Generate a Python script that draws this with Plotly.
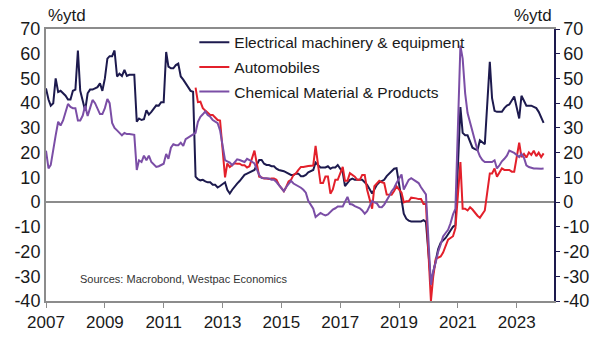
import plotly.graph_objects as go

# Monthly year-to-date growth, %; January is reported jointly with February from 2013
elec_ytd = [
    46, 41.5, 39, 40, 50, 44.5, 45, 44, 43, 41.5, 41.5, 45,          # 2007
    45.5, 61.3, 45, 41, 37, 44, 45.5, 45.5, 46, 46.5, 48, 45,        # 2008
    50, 58, 59, 59, 61.3, 50.8, 51.9, 51, 53.5, 51, 51.5, 51.5,      # 2009
    51.5, 32.5, 33.8, 33.2, 33.5, 37.1, 35.4, 36.5, 37.8, 39.1, 39, 40.4,  # 2010
    40.4, 60.7, 54.8, 54.1, 54.1, 55.4, 56, 50.8, 49.5, 48.2, 46.5, 45,    # 2011
    44.6, 10.3, 9.3, 8.8, 9, 8.4, 8, 8, 7, 7, 5.9, 6.5,              # 2012
    8, 5, 3.5, 5, 6.5, 7.5, 8.5, 10, 11, 11.5, 12,                   # 2013
    13, 15, 17, 17, 15.5, 15, 15, 14.5, 14.5, 13.5, 13,              # 2014
    12.5, 12, 11.5, 11, 11, 11.5, 11.5, 10.5, 10.5, 11, 12,          # 2015
    13, 16, 15, 14, 14, 14, 14.5, 13.5, 14, 14, 15,                  # 2016
    12, 6.5, 8, 9, 9.5, 9, 9, 9, 9, 8, 7,                            # 2017
    3.5, 5, 7, 8, 8.5, 9, 10.5, 11.5, 12.5, 13.5, 13.7,              # 2018
    0.5, -4.7, -6.7, -7.5, -7.8, -7.8, -7.8, -7.5, -7.8, -7.3, -8,   # 2019
    -32.8, -28, -24, -19, -16.5, -15.5, -14.5, -13, -11.5, -10, -9.3,  # 2020
    38.4, 28, 27, 27, 24, 22, 21.4, 21, 25, 24, 23.4,                # 2021
    56.7, 42, 36.9, 36.5, 36.5, 36.5, 38, 39, 39.5, 41, 42.7,        # 2022
    33.8, 43, 41, 39, 39, 39, 38.5, 38, 36.5, 34.5, 32,              # 2023
]

# Automobiles series begins in February 2012
auto_ytd = [
    46.3, 40.4, 40.6, 38, 37, 36, 35.2, 35.2, 34, 33.2, 33,          # 2012
    10, 15.6, 14.2, 15, 15.7, 15.5, 15.5, 14.9, 14.9, 14, 14.5,      # 2013
    20.8, 14.9, 10.3, 10, 9.5, 9.5, 9.3, 9.5, 9.5, 9, 7,             # 2014
    4.4, 6, 8.4, 9, 11, 11.6, 13, 14.2, 14.2, 14.5, 14.6,            # 2015
    14.8, 22.7, 14.9, 7.7, 7.7, 10.3, 10.3, 3.4, 5.1, 9, 9,          # 2016
    14.2, 8.6, 8.6, 11.7, 11, 10.3, 9, 9, 11, 11, 5,                 # 2017
    -2.7, 6.4, 7.7, 8.6, 8, 7.7, 3.1, 3, 3, 4.5, 6.4,                # 2018
    3.8, -0.1, 0.3, 0.3, 1.8, 1.8, 1.5, 1.2, 1.2, -0.8, -0.8,        # 2019
    -40, -30, -23, -22.5, -22, -20.4, -17.8, -15.2, -14.5, -13.8, -10.6,  # 2020
    16.2, -2.7, -2.7, -3.4, -2.1, -3, -4.4, -5.5, -6.3, -4.7, -3.4,  # 2021
    11.6, 11.6, 13.6, 10.3, 12, 13.6, 13, 13, 13, 12.3, 12.3,        # 2022
    24, 18.2, 19.5, 18, 20.1, 19.1, 20.8, 18.6, 20, 18.2, 19.7,      # 2023
]

chem_ytd = [
    20.8, 13.6, 15, 22, 27, 32.5, 31, 33, 36, 39.7, 38.5, 38,        # 2007
    38, 33, 33, 35, 39, 34.8, 38, 41.3, 40, 38, 35.6, 35.6,          # 2008
    38, 41.7, 40, 32, 30, 29, 28, 27, 28, 27.5, 27.5, 27.3,          # 2009
    27.2, 13, 16.9, 16.2, 18.8, 16.9, 18.8, 16.2, 15, 14.2, 14.5, 14.9,  # 2010
    15.5, 19.5, 17.5, 22, 23.4, 23, 23, 24, 22.7, 25.4, 26, 26.7,    # 2011
    27.2, 28, 32.5, 34.5, 35.5, 36.7, 35.2, 34.5, 33.2, 32.5, 31.9, 29,  # 2012
    17, 16.5, 16, 14.9, 16.2, 17.3, 17, 16.6, 16.2, 17.5, 17,        # 2013
    15.6, 13.6, 11, 9.7, 9.7, 9.7, 9.5, 9, 9, 8.1, 7,                # 2014
    4.4, 6, 7.5, 8.6, 7.5, 7, 6.5, 5.8, 5, 3.8, 0.5,                 # 2015
    -2.7, -6, -5, -4.4, -5, -5.4, -5, -4, -3, -2.5, -1.8,            # 2016
    -1.8, 0, 2.1, -0.8, -1, -1.6, -2, -2.5, -3.4, -4.7, -3.7,        # 2017
    0.5, -0.1, -0.5, -2, -2.1, -1, 0.5, 2.5, 4.4, 5.7, 7.7,          # 2018
    11.2, 5.1, 7, 9, 9.7, 9, 8.5, 7.7, 6, 4.4, 3.1,                  # 2019
    -33.5, -28, -24.3, -20, -17.1, -13.9, -12.5, -11.2, -8.6, -5, -2.7,  # 2020
    63.3, 58, 44, 36, 32, 28, 24, 21, 18.5, 17, 16.2,                # 2021
    16.2, 16.2, 16.9, 13.6, 14.9, 16.5, 17.5, 18.8, 20.8, 20.5, 19.9,  # 2022
    18.2, 19.5, 18, 14.9, 14.2, 13.8, 13.6, 13.6, 13.4, 13.5, 13.6,  # 2023
]

series_names = ["Electrical machinery & equipment", "Automobiles",
                "Chemical Material & Products"]
series_colors = ["#1d1a4e", "#e3202b", "#7b4ea6"]

year_ticks = [2007, 2009, 2011, 2013, 2015, 2017, 2019, 2021, 2023]
value_ticks = [-40, -30, -20, -10, 0, 10, 20, 30, 40, 50, 60, 70]
value_labels = [str(v) for v in value_ticks]  # plain hyphen for negatives

# Month stamps: full years through 2012, February onward afterwards
months = []
for yr in range(2007, 2024):
    first = 1 if yr <= 2012 else 2
    for mo in range(first, 13):
        months.append(f"{yr}-{mo:02d}-01")
auto_months = months[months.index("2012-02-01"):]

FONT = "Liberation Sans, Arial, sans-serif"
TXT = "#1a1a1a"

fig = go.Figure()
for name, x, y, c in zip(series_names,
                         [months, auto_months, months],
                         [elec_ytd, auto_ytd, chem_ytd],
                         series_colors):
    fig.add_trace(go.Scatter(x=x, y=y, name=name, legendgroup=name,
                             mode="lines", line=dict(color=c, width=2)))

# Right-hand scale mirrors the left
fig.add_trace(go.Scatter(x=months, y=elec_ytd, yaxis="y2", mode="lines",
                         line=dict(width=0), hoverinfo="skip",
                         showlegend=False, opacity=0))

x_font = dict(family=FONT, size=17, color=TXT)
y_font = dict(family=FONT, size=18, color=TXT)

fig.update_layout(
    width=601, height=344,
    margin=dict(l=46, r=41, t=29, b=34),
    paper_bgcolor="white", plot_bgcolor="white",
    showlegend=True,
    legend=dict(x=0.292, y=1.012, xanchor="left", yanchor="top",
                bgcolor="rgba(0,0,0,0)", font=dict(family=FONT, size=15.5, color=TXT),
                tracegroupgap=1.5, itemwidth=30),
    xaxis=dict(
        type="date",
        range=["2007-01-01", "2024-04-08"],
        tickvals=[f"{y}-01-01" for y in year_ticks],
        ticktext=[str(y) for y in year_ticks],
        tickfont=x_font,
        ticks="outside", ticklen=5, tickcolor="#8c8c8c", tickwidth=1,
        showline=True, linecolor="#8c8c8c", linewidth=2, mirror=True,
        showgrid=False, zeroline=False,
    ),
    yaxis=dict(
        range=[-40, 70], tickvals=value_ticks, ticktext=value_labels,
        tickfont=y_font,
        showline=True, linecolor="#8c8c8c", linewidth=2,
        ticks="", showgrid=False,
        zeroline=True, zerolinecolor="#8c8c8c", zerolinewidth=2,
    ),
    yaxis2=dict(
        range=[-40, 70], tickvals=value_ticks, ticktext=value_labels,
        tickfont=y_font,
        overlaying="y", side="right", anchor="x",
        showline=True, linecolor="#1d1a4e", linewidth=1.5,
        ticks="outside", ticklen=4, tickcolor="#1d1a4e",
        showgrid=False, zeroline=False,
    ),
    annotations=[
        dict(text="%ytd", xref="paper", yref="paper", x=0, y=1,
             xanchor="left", yanchor="bottom", yshift=2, showarrow=False,
             font=dict(family=FONT, size=17, color=TXT)),
        dict(text="%ytd", xref="paper", yref="paper", x=1, y=1,
             xanchor="right", yanchor="bottom", yshift=2, showarrow=False,
             font=dict(family=FONT, size=17, color=TXT)),
        dict(text="Sources: Macrobond, Westpac Economics", xref="paper",
             yref="paper", x=0.063, y=0.08, xanchor="left", yanchor="middle",
             showarrow=False, font=dict(family=FONT, size=11, color="#333333")),
    ],
)

fig.write_html("out.html")
